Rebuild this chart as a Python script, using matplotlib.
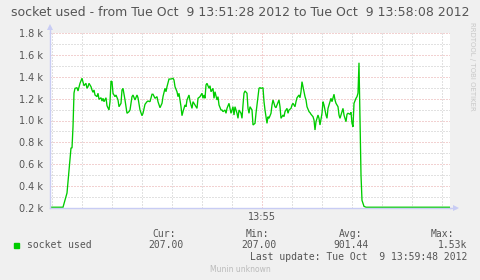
import matplotlib
matplotlib.use("Agg")
import matplotlib.pyplot as plt
import numpy as np

# ---- data (seconds after 13:51:28, value) ----
t_sec = [0, 13, 17, 19, 21, 22, 23, 24, 25, 27, 28, 30, 32, 34, 36, 37, 38, 39, 41, 42,
         43, 44, 45, 47, 48, 49, 51, 52, 53, 54, 56, 57, 59, 60, 61, 62, 63, 65, 66, 68,
         69, 71, 72, 73, 75, 76, 77, 79, 80, 82, 83, 85, 87, 88, 90, 92, 93, 95, 97, 98,
         100, 102, 103, 105, 107, 108, 110, 112, 113, 115, 116, 117, 119, 121, 123, 124, 125, 127, 128, 129,
         131, 132, 133, 135, 136, 137, 139, 140, 141, 142, 143, 145, 147, 148, 150, 152, 153, 154, 155, 156,
         157, 159, 160, 161, 163, 164, 165, 167, 168, 169, 171, 172, 173, 175, 176, 177, 179, 180, 181, 183,
         184, 185, 187, 188, 189, 191, 192, 193, 194, 195, 197, 198, 199, 200, 202, 203, 205, 206, 207, 209,
         210, 211, 213, 214, 215, 217, 218, 219, 221, 222, 223, 225, 226, 227, 229, 230, 231, 233, 234, 235,
         237, 238, 239, 241, 242, 243, 245, 246, 247, 249, 250, 251, 252, 253, 255, 256, 257, 259, 260, 261,
         263, 264, 265, 266, 268, 269, 270, 272, 273, 274, 276, 277, 278, 280, 281, 282, 284, 285, 286, 288,
         289, 290, 292, 293, 294, 296, 297, 298, 300, 301, 302, 303, 304, 306, 307, 308, 309, 310, 311, 312,
         314, 316, 400]
values = [207, 207, 337, 547, 749, 749, 941, 1251, 1294, 1300, 1270, 1340, 1386, 1318, 1340, 1294, 1309, 1340, 1309, 1279,
          1258, 1279, 1233, 1218, 1249, 1194, 1208, 1178, 1203, 1172, 1208, 1135, 1096, 1172, 1361, 1355, 1249, 1218, 1233, 1188,
          1126, 1157, 1279, 1294, 1188, 1126, 1066, 1081, 1096, 1218, 1233, 1188, 1233, 1208, 1096, 1044, 1066, 1148, 1172, 1178,
          1172, 1240, 1240, 1203, 1218, 1172, 1117, 1157, 1218, 1294, 1263, 1309, 1379, 1379, 1386, 1370, 1309, 1263, 1218, 1249,
          1126, 1044, 1081, 1142, 1126, 1188, 1233, 1180, 1142, 1111, 1172, 1142, 1111, 1203, 1218, 1249, 1203, 1233, 1203, 1325,
          1340, 1294, 1318, 1263, 1294, 1203, 1263, 1188, 1218, 1142, 1096, 1096, 1081, 1096, 1066, 1111, 1157, 1111, 1066, 1126,
          1050, 1126, 1066, 1020, 1096, 1066, 1020, 1142, 1249, 1270, 1249, 1111, 1066, 1126, 1096, 959, 974, 1066, 1142, 1294,
          1300, 1294, 1300, 1172, 1096, 974, 1035, 1020, 1066, 1142, 1188, 1126, 1117, 1142, 1188, 1126, 1020, 1050, 1035, 1081,
          1111, 1066, 1096, 1111, 1142, 1157, 1126, 1172, 1208, 1233, 1208, 1263, 1355, 1309, 1218, 1188, 1126, 1081, 1072, 1057,
          1035, 1005, 913, 989, 1050, 1020, 959, 1066, 1172, 1142, 1050, 1020, 1111, 1172, 1203, 1172, 1240, 1188, 1157, 1126,
          1050, 1020, 1081, 1111, 1050, 989, 1057, 1066, 1057, 1075, 974, 943, 1157, 1203, 1218, 1251, 1528, 1005, 500, 270,
          215, 207, 207]

y_ticks = [200, 400, 600, 800, 1000, 1200, 1400, 1600, 1800]
y_labels = ["0.2 k", "0.4 k", "0.6 k", "0.8 k", "1.0 k", "1.2 k", "1.4 k", "1.6 k", "1.8 k"]
x_major = [212]
x_labels = ["13:55"]

title = "socket used - from Tue Oct  9 13:51:28 2012 to Tue Oct  9 13:58:08 2012"
series_name = "socket used"
stat_heads = ["Cur:", "Min:", "Avg:", "Max:"]
stat_vals = ["207.00", "207.00", "901.44", "1.53k"]
last_update = "Last update: Tue Oct  9 13:59:48 2012"

W, H = 481, 280
BG = "#F0F0F0"
FONT = "#555555"
AXIS = "#C8CCF4"
GREEN = "#00CC00"

fig = plt.figure(figsize=(W / 100, H / 100), dpi=100, facecolor=BG)
L, R, T, B = 50, 450, 33, 208
ax = fig.add_axes([L / W, 1 - B / H, (R - L) / W, (B - T) / H], facecolor="white")
ax.set_xlim(0, 400)
ax.set_ylim(200, 1800)

# grid
for y in range(300, 1800, 200):
    ax.axhline(y, color="#C4C4C4", lw=0.72, ls=(0, (1, 2)), zorder=1)
for y in y_ticks[1:]:
    ax.axhline(y, color="#E6A4A4", lw=0.72, ls=(0, (1, 2)), zorder=1)
for x in range(2, 400, 30):
    if x not in x_major:
        ax.axvline(x, color="#C4C4C4", lw=0.72, ls=(0, (1, 2)), zorder=1)
for x in x_major:
    ax.axvline(x, color="#E6A4A4", lw=0.72, ls=(0, (1, 2)), zorder=1)

ax.plot(t_sec, values, color=GREEN, lw=0.95, zorder=3, solid_joinstyle="miter")

for s in ["top", "right"]:
    ax.spines[s].set_visible(False)
for s in ["left", "bottom"]:
    ax.spines[s].set_color(AXIS)
    ax.spines[s].set_linewidth(1.0)
    ax.spines[s].set_zorder(4)

# arrows
ax.plot([0, 0], [1.0, 1.035], transform=ax.transAxes, color=AXIS, lw=1.0, clip_on=False)
ax.plot([0], [1.035], transform=ax.transAxes, marker="^", ms=4, color=AXIS, clip_on=False, mew=0)
ax.plot([1.0, 1.015], [0, 0], transform=ax.transAxes, color=AXIS, lw=1.0, clip_on=False)
ax.plot([1.015], [0], transform=ax.transAxes, marker=">", ms=4, color=AXIS, clip_on=False, mew=0)

ax.set_yticks(y_ticks)
ax.set_yticklabels(y_labels)
ax.set_xticks(x_major)
ax.set_xticklabels(x_labels)
ax.tick_params(axis="both", length=0, labelsize=7, colors=FONT, pad=5)
ax.tick_params(axis="x", pad=3)


def px(x, y):
    return x / W, 1 - y / H


fig.text(*px(240, 13), title, ha="center", va="center", fontsize=9, color=FONT)

mono = "DejaVu Sans Mono"
fig.patches.append(plt.Rectangle(px(14, 248), 5 / W, 5 / H, transform=fig.transFigure,
                                 color=GREEN, figure=fig))
fig.text(*px(27, 245.5), series_name, ha="left", va="center", fontsize=7, family=mono, color=FONT)
head_x = [176, 269, 362, 454]
val_x = [184, 277, 369, 467]
for hx, h in zip(head_x, stat_heads):
    fig.text(*px(hx, 234), h, ha="right", va="center", fontsize=7, family=mono, color=FONT)
for vx, v in zip(val_x, stat_vals):
    fig.text(*px(vx, 245.5), v, ha="right", va="center", fontsize=7, family=mono, color=FONT)
fig.text(*px(467, 257.5), last_update, ha="right", va="center", fontsize=7, family=mono, color=FONT)
fig.text(*px(240, 269), "Munin unknown", ha="center", va="center", fontsize=5.5, color="#BBBBBB")
fig.text(*px(472, 22), "RRDTOOL / TOBI OETIKER", ha="center", va="top", rotation=270,
         fontsize=5, color="#C8C8C8")

fig.savefig("out.png", dpi=100, facecolor=BG)
